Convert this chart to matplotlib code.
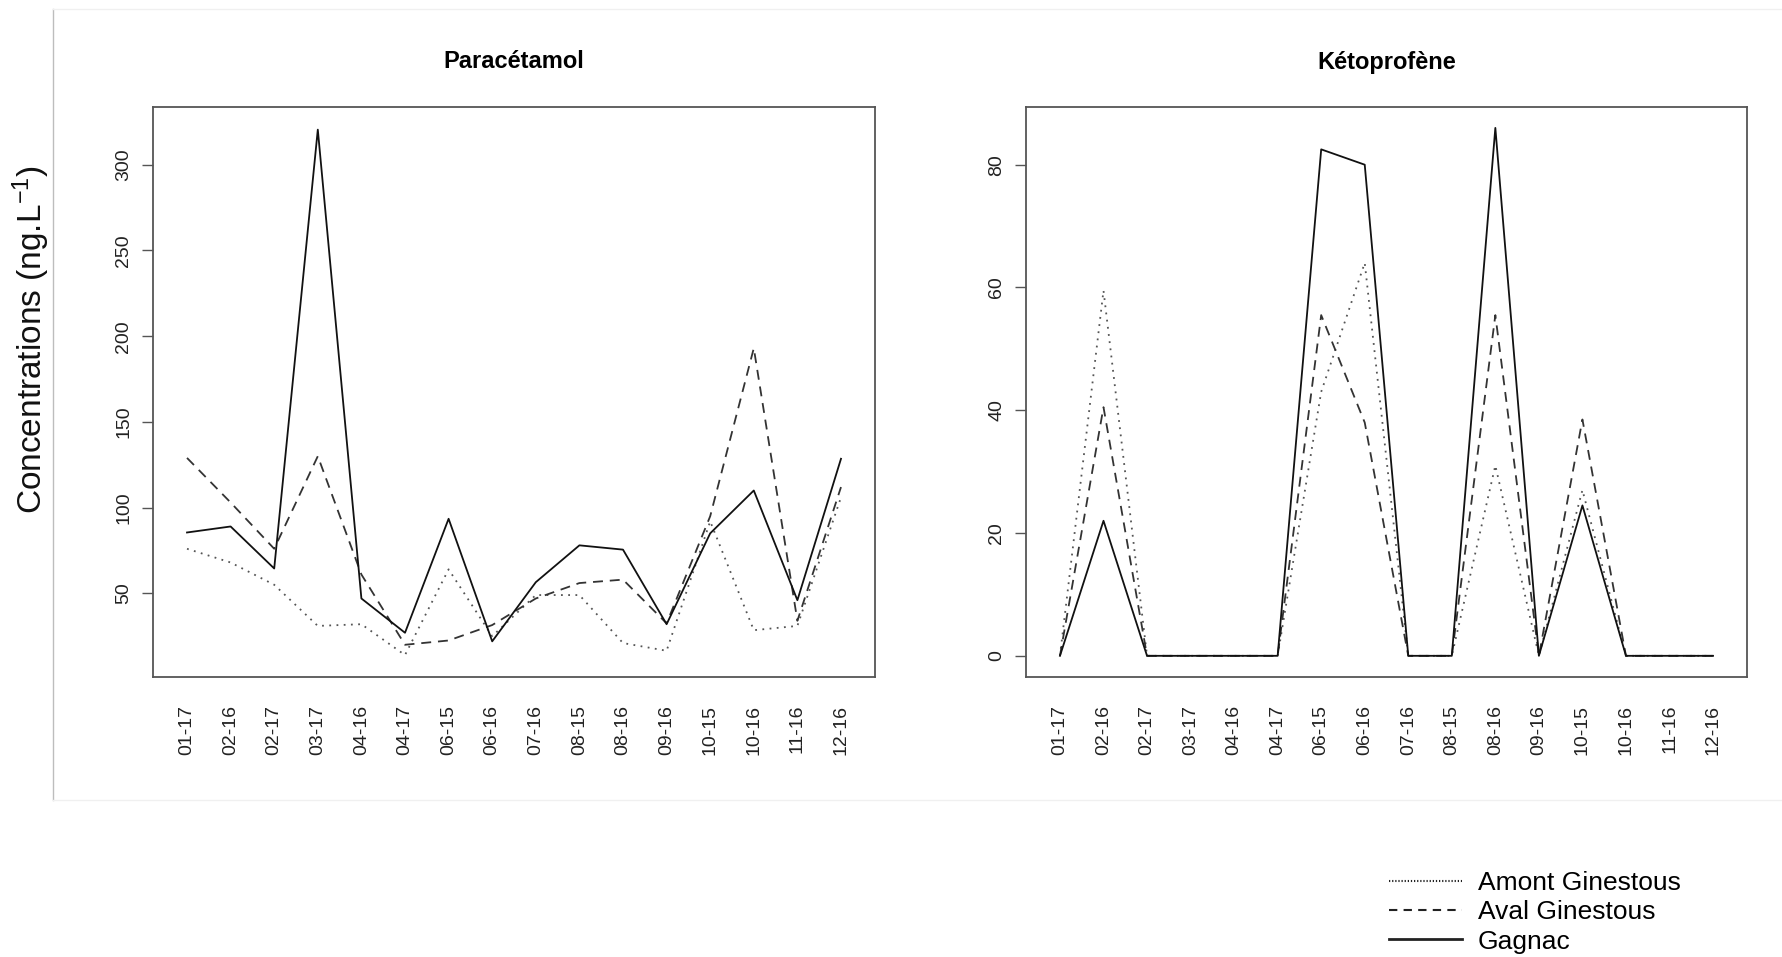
import matplotlib
matplotlib.use("Agg")
import matplotlib.pyplot as plt
from matplotlib.lines import Line2D

plt.rcParams['font.family'] = ['Liberation Sans', 'DejaVu Sans']
plt.rcParams['mathtext.fontset'] = 'custom'
plt.rcParams['mathtext.rm'] = 'Liberation Sans'
plt.rcParams['mathtext.it'] = 'Liberation Sans:italic'

# sampling dates (month-year)
dates = ['01-17', '02-16', '02-17', '03-17', '04-16', '04-17', '06-15', '06-16',
         '07-16', '08-15', '08-16', '09-16', '10-15', '10-16', '11-16', '12-16']

# Paracetamol (ng/L)
amont_para = [76, 68, 55, 31, 32, 14, 64, 25, 49, 49, 21, 16.5, 92, 28.5, 31, 106]
aval_para = [129, 103, 76, 130, 61, 20, 22.5, 31.5, 47, 56, 58, 32.5, 95, 193, 34, 112]
gagnac_para = [85.5, 89, 64.5, 320.5, 47, 27, 93.5, 22, 56.5, 78, 75.5, 32, 85, 110, 46, 128.5]

# Ketoprofen (ng/L)
amont_keto = [0, 59.5, 0, 0, 0, 0, 43, 64, 0, 0, 31, 0, 27, 0, 0, 0]
aval_keto = [0, 40.5, 0, 0, 0, 0, 55.5, 38, 0, 0, 55.5, 0, 38.5, 0, 0, 0]
gagnac_keto = [0, 22, 0, 0, 0, 0, 82.5, 80, 0, 0, 86, 0, 24.5, 0, 0, 0]

sites = ['Amont Ginestous', 'Aval Ginestous', 'Gagnac']

W, H = 1782, 957
fig = plt.figure(figsize=(W / 100, H / 100), dpi=100)

# pixel boxes of the two panels: left, top, right, bottom
boxes = [(153, 107, 875, 677), (1026, 107, 1747, 677)]
ylims = [(1.2, 333.7), (-3.45, 89.4)]
yticks = [[50, 100, 150, 200, 250, 300], [0, 20, 40, 60, 80]]
titles = ['Paracétamol', 'Kétoprofène']
data = [(amont_para, aval_para, gagnac_para), (amont_keto, aval_keto, gagnac_keto)]

styles = [dict(color='#555555', lw=1.3, ls=(0, (1, 3))),
          dict(color='#333333', lw=1.3, ls=(0, (5.5, 3.8))),
          dict(color='#111111', lw=1.3, ls='-')]

x = list(range(len(dates)))
for (l, t, r, b), yl, yt, title, series in zip(boxes, ylims, yticks, titles, data):
    ax = fig.add_axes([l / W, 1 - b / H, (r - l) / W, (b - t) / H])
    for vals, st in zip(series, styles):
        ax.plot(x, vals, **st)
    ax.set_xlim(-0.78, 15.78)
    ax.set_ylim(*yl)
    ax.set_yticks(yt)
    ax.set_xticks(x)
    ax.set_xticklabels(dates, rotation=90)
    ax.tick_params(axis='x', length=0, pad=20, labelsize=14, labelcolor='#222222')
    ax.tick_params(axis='y', length=8, width=1, color='#555555', pad=7,
                   labelsize=14, labelcolor='#222222')
    plt.setp(ax.get_yticklabels(), rotation=90, va='center')
    for sp in ax.spines.values():
        sp.set_color('#555555')
        sp.set_linewidth(1.3)
    ax.text(0.5, 1 + 45 / (b - t), title, transform=ax.transAxes,
            ha='center', va='center', fontsize=17, fontweight='bold')

fig.text(31 / W, 1 - 340 / H, 'Concentrations (ng.L$^{-1}$)', rotation=90,
         ha='center', va='center', fontsize=24, color='#111111')

# light frame of the original figure panel
fig.add_artist(Line2D([53 / W, 53 / W], [1 - 9 / H, 1 - 800 / H],
                      transform=fig.transFigure, color='#bdbdbd', lw=1))
fig.add_artist(Line2D([53 / W, 1], [1 - 9 / H, 1 - 9 / H],
                      transform=fig.transFigure, color='#f0f0f0', lw=1))
fig.add_artist(Line2D([53 / W, 1], [1 - 800 / H, 1 - 800 / H],
                      transform=fig.transFigure, color='#f0f0f0', lw=1))

handles = [Line2D([], [], color='#222222', lw=1.5, ls=(0, (0.6, 0.9))),
           Line2D([], [], color='#222222', lw=1.5, ls=(0, (4, 3))),
           Line2D([], [], color='#222222', lw=2.0, ls='-')]
fig.legend(handles, sites, loc='upper left',
           bbox_to_anchor=(1389 / W, 1 - 871 / H), frameon=False,
           fontsize=19, handlelength=2.75, handletextpad=0.62,
           labelspacing=0.2, borderpad=0, borderaxespad=0)

fig.savefig('out.png', dpi=100)
